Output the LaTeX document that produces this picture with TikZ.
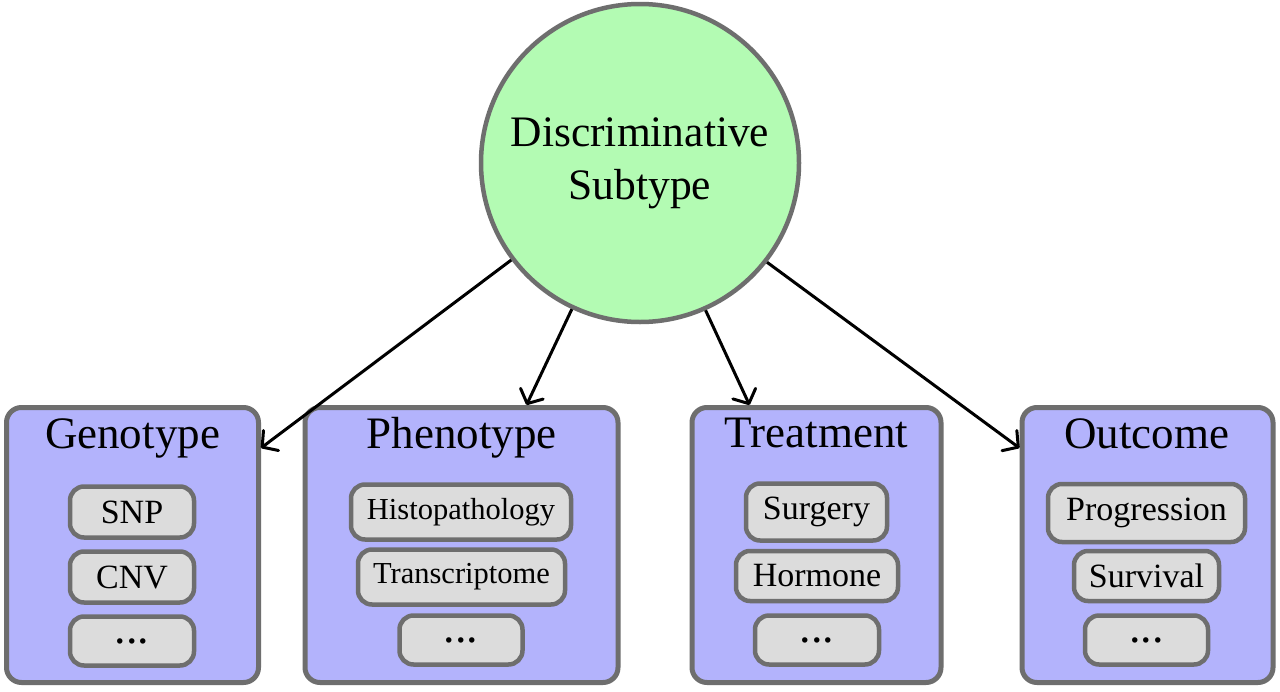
\documentclass[tikz,border=0pt]{standalone}
\usepackage{fontspec}
\setmainfont{Liberation Serif}
\usetikzlibrary{arrows.meta,calc}
\definecolor{edgegray}{HTML}{6E6E6E}
\definecolor{circfill}{HTML}{B3FBB3}
\definecolor{boxfill}{HTML}{B3B3FC}
\definecolor{itemfill}{HTML}{DCDCDC}
\tikzset{
  catbox/.style={draw=edgegray, line width=5pt, fill=boxfill, rounded corners=15pt, minimum height=275pt, inner sep=0pt},
  cattitle/.style={anchor=base, inner sep=0pt, font=\fontsize{45}{50}\selectfont},
  item/.style={draw=edgegray, line width=4.5pt, fill=itemfill, rounded corners=14pt, inner sep=0pt, font=\fontsize{34}{40}\selectfont},
  smallitem/.style={item, font=\fontsize{30.5}{36}\selectfont},
  dotsitem/.style={item, font=\fontsize{46}{50}\selectfont},
  link/.style={line width=3pt, -{Straight Barb[length=11pt,width=25pt,line width=3pt,round]}}
}
\begin{document}
\begin{tikzpicture}[x=1pt,y=-1pt]
\useasboundingbox[fill=white] (0,0) rectangle (1280,691);
% central circle
\node[circle, draw=edgegray, line width=4.5pt, fill=circfill, minimum size=318pt, inner sep=0pt,
      align=center, font=\fontsize{43.5}{53}\selectfont] (c) at (640,163) {Discriminative\\Subtype};
% category boxes
\node[catbox, minimum width=252pt] (geno) at (132.5,545) {};
\node[catbox, minimum width=313pt] (pheno) at (461.5,545) {};
\node[catbox, minimum width=249pt] (treat) at (816.5,545) {};
\node[catbox, minimum width=251pt] (outc) at (1147.5,545) {};
% titles
\node[cattitle] (gt) at (132.5,448) {Genotype};
\node[cattitle] (pt) at (461.5,448) {Phenotype};
\node[cattitle] (tt) at (816.5,447) {Treatment};
\node[cattitle] (ot) at (1146.5,448) {Outcome};
% genotype items
\node[item, minimum width=124pt, minimum height=51pt] (snp) at (132,512) {SNP};
\node[item, minimum width=124pt, minimum height=51pt] (cnv) at (132,577) {CNV};
\node[dotsitem, minimum width=124pt, minimum height=49pt] (gd) at (132,641) {...};
% phenotype items
\node[smallitem, minimum width=220pt, minimum height=55pt] (hist) at (461,512) {Histopathology};
\node[smallitem, minimum width=207pt, minimum height=55pt] (trans) at (461.5,577) {Transcriptome};
\node[dotsitem, minimum width=123pt, minimum height=49pt] (pd) at (461,640) {...};
% treatment items
\node[item, minimum width=141pt, minimum height=57pt] (surg) at (816.5,512) {Surgery};
\node[item, minimum width=162pt, minimum height=50pt] (horm) at (817,576) {Hormone};
\node[dotsitem, minimum width=124pt, minimum height=49pt] (td) at (817,640) {...};
% outcome items
\node[item, minimum width=197pt, minimum height=58pt] (prog) at (1146.5,513) {Progression};
\node[item, minimum width=145pt, minimum height=50pt] (surv) at (1146.5,576) {Survival};
\node[dotsitem, minimum width=123pt, minimum height=49pt] (od) at (1146.5,640) {...};
% connectors
\draw[link] (c.217.6) -- ($(geno.north east)+(0,43)$);
\draw[link] (c.245.2) -- ($(pheno.north west)+(224,0)$);
\draw[link] (c.294.8) -- ($(treat.north west)+(60,0)$);
\draw[link] (c.322.4) -- ($(outc.north west)+(0,43)$);
\end{tikzpicture}
\end{document}
